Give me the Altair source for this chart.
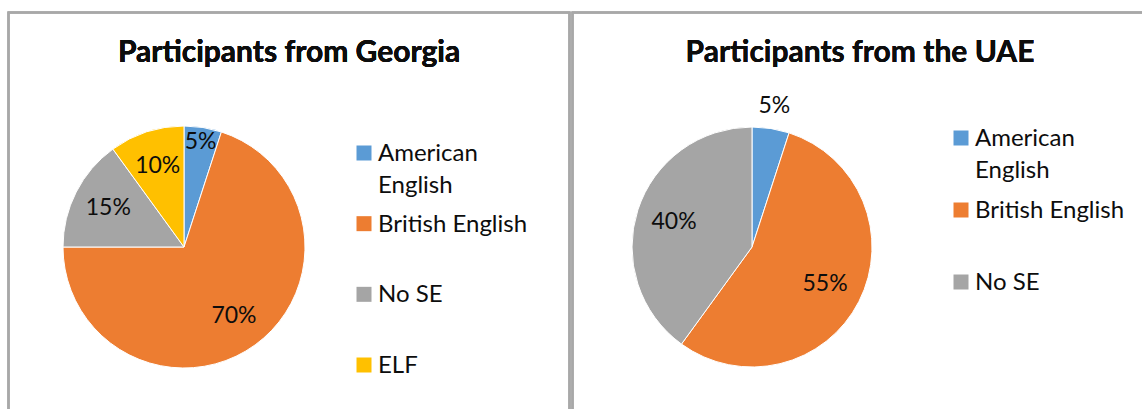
import altair as alt
import pandas as pd

# ---- data ----
categories_all = ["American English", "British English", "No SE", "ELF"]
colors_all = ["#5B9BD5", "#ED7D31", "#A5A5A5", "#FFC000"]

georgia_title = "Participants from Georgia"
georgia_categories = ["American English", "British English", "No SE", "ELF"]
georgia_values = [5, 70, 15, 10]

uae_title = "Participants from the UAE"
uae_categories = ["American English", "British English", "No SE"]
uae_values = [5, 55, 40]

georgia = pd.DataFrame({"category": georgia_categories, "value": georgia_values,
                        "idx": list(range(len(georgia_values)))})
uae = pd.DataFrame({"category": uae_categories, "value": uae_values,
                    "idx": list(range(len(uae_values)))})

FONT = "Lato"
TXT = "#0d0d0d"
FRAME = "#A8A8A8"

color = alt.Color("category:N", scale=alt.Scale(domain=categories_all, range=colors_all), legend=None)
theta = alt.Theta("value:Q", stack=True)
order = alt.Order("idx:Q")


def pie(df, cx, cy, r, small_r, big_r):
    arcs = alt.Chart(df).mark_arc(outerRadius=r, stroke="white", strokeWidth=1).encode(
        theta=theta, color=color, order=order, x=alt.value(cx), y=alt.value(cy)
    )
    labels = alt.Chart(df).transform_stack(
        stack="value", as_=["v0", "v1"], groupby=[], sort=[alt.SortField("idx")]
    ).transform_calculate(
        mid="(datum.v0 + datum.v1) / 2",
        lab="datum.value + '%'",
        lr=f"datum.value < 6 ? {small_r} : {big_r}",
    ).mark_text(font=FONT, fontSize=23, color=TXT, align="center", baseline="middle").encode(
        theta=alt.Theta("mid:Q", stack=None, scale=alt.Scale(domain=[0, 100])),
        text="lab:N",
        radius=alt.Radius("lr:Q", scale=None),
        x=alt.value(cx), y=alt.value(cy)
    )
    return [arcs, labels]


def legend(df, sx, tx, y0, y1):
    yenc = alt.Y("category:N", scale=alt.Scale(type="point", domain=list(df["category"]),
                                                range=[y0, y1], padding=0), axis=None)
    squares = alt.Chart(df).mark_square(size=225, opacity=1).encode(
        x=alt.value(sx), y=yenc, color=color
    )
    texts = alt.Chart(df).transform_calculate(
        lines="datum.category == 'American English' ? ['American', 'English'] : datum.category"
    ).mark_text(font=FONT, fontSize=24, color=TXT, align="left", baseline="alphabetic",
                dy=8, lineHeight=32).encode(
        x=alt.value(tx), y=yenc, text="lines:N"
    )
    return [squares, texts]


frame_left = alt.Chart(georgia).mark_rect(fillOpacity=0, stroke=FRAME, strokeWidth=2).encode(
    x=alt.value(8.5), x2=alt.value(569.5), y=alt.value(12.5), y2=alt.value(430)
)
frame_right = alt.Chart(georgia).mark_rect(fillOpacity=0, stroke=FRAME, strokeWidth=2).encode(
    x=alt.value(572.5), x2=alt.value(1160), y=alt.value(12.5), y2=alt.value(430)
)

title_left = alt.Chart(georgia).mark_text(text=georgia_title, font=FONT, fontSize=30, fontWeight="bold",
                                          color=TXT, align="center", baseline="middle").encode(
    x=alt.value(289), y=alt.value(53)
)
title_right = alt.Chart(uae).mark_text(text=uae_title, font=FONT, fontSize=30, fontWeight="bold",
                                       color=TXT, align="center", baseline="middle").encode(
    x=alt.value(860), y=alt.value(53)
)

layers = [frame_left, frame_right, title_left, title_right]
layers += pie(georgia, 184, 247, 121, 106, 85)
layers += pie(uae, 752, 247, 120, 143, 82)
layers += legend(georgia, 364, 378, 153, 365)
layers += legend(uae, 961, 975, 138, 282)

chart = alt.layer(*layers).resolve_scale(y="independent").properties(
    width=1142, height=409, autosize=alt.AutoSizeParams(type="none"), padding=0,
    background="white"
).configure_view(stroke=None)

chart.save("out.html", embed_options={"renderer": "svg", "actions": False})
